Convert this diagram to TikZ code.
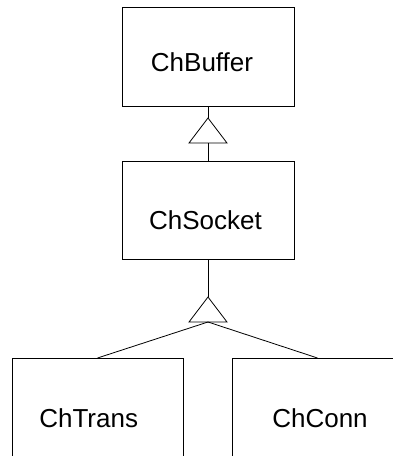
\documentclass[tikz,border=0pt]{standalone}
\usepackage{fontspec}
\setmainfont{Liberation Sans}
\usetikzlibrary{positioning}

\tikzset{
    classbox/.style={draw, rectangle, line width=0.8pt, inner sep=0pt},
    classname/.style={anchor=base, inner sep=0pt, font=\fontsize{26}{30}\selectfont},
    inherit/.style={line width=0.8pt},
}

\begin{document}
\begin{tikzpicture}[x=1pt, y=-1pt]
    \useasboundingbox (0,0) rectangle (393,456);
    \clip (0,0) rectangle (393,456);

    % Classes
    \node[classbox, minimum width=172pt, minimum height=99pt] (buffer) at (208,56.5) {};
    \node[classname] (bufferlbl) at (202,71.5) {ChBuffer};
    \node[classbox, minimum width=172pt, minimum height=98pt] (socket) at (208,210) {};
    \node[classname] (socketlbl) at (205.5,229) {ChSocket};
    \node[classbox, minimum width=171pt, minimum height=140pt, anchor=north] (trans) at (97.5,358) {};
    \node[classname] (translbl) at (88.7,427) {ChTrans};
    \node[classbox, minimum width=171pt, minimum height=140pt, anchor=north] (conn) at (317.5,358) {};
    \node[classname] (connlbl) at (320,427) {ChConn};

    % Generalisation ChSocket -> ChBuffer
    \coordinate (tipa) at (208,118);
    \coordinate (basea) at (208,143);
    \draw[inherit] (buffer.south) -- (tipa);
    \draw[inherit] (tipa) -- (227,143) -- (189,143) -- cycle;
    \draw[inherit] (basea) -- (socket.north);

    % Generalisation ChTrans, ChConn -> ChSocket
    \coordinate (tipb) at (208,297);
    \coordinate (baseb) at (208,322);
    \draw[inherit] (socket.south) -- (tipb);
    \draw[inherit] (tipb) -- (227,322) -- (189,322) -- cycle;
    \draw[inherit] (baseb) -- (trans.north);
    \draw[inherit] (baseb) -- (conn.north);
\end{tikzpicture}
\end{document}
